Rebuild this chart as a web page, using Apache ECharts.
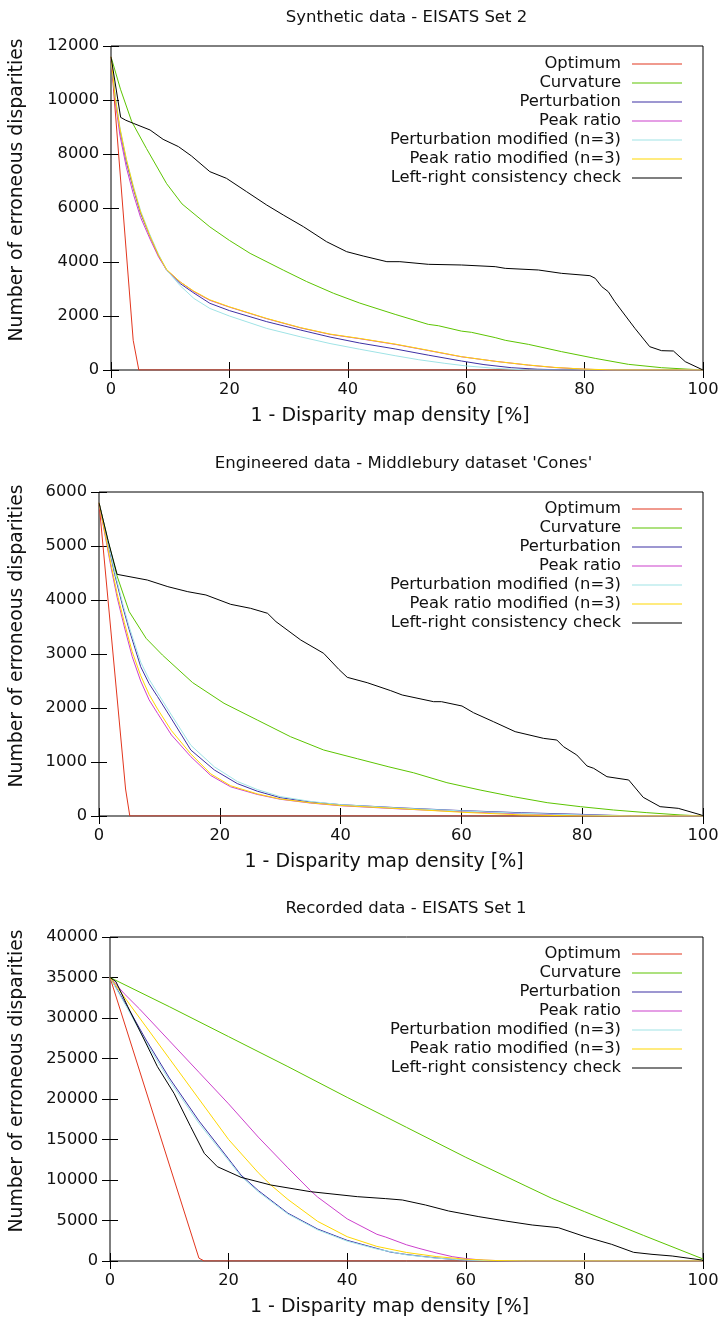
<!DOCTYPE html>
<html>
<head>
<meta charset="utf-8">
<script src="https://cdn.jsdelivr.net/npm/echarts@6/dist/echarts.min.js"></script>
<style>html,body{margin:0;padding:0;background:#fff}#c{width:722px;height:1319px}</style>
</head>
<body>
<div id="c"></div>
<script>
// ---------- shared labels ----------
const seriesNames = ['Optimum', 'Curvature', 'Perturbation', 'Peak ratio',
  'Perturbation modified (n=3)', 'Peak ratio modified (n=3)', 'Left-right consistency check'];
const titles = ["Synthetic data - EISATS Set 2", "Engineered data - Middlebury dataset 'Cones'", "Recorded data - EISATS Set 1"];
const xAxisTitle = '1 - Disparity map density [%]';
const yAxisTitle = 'Number of erroneous disparities';
const xTicks = [0, 20, 40, 60, 80, 100];
const yTicks1 = [0, 2000, 4000, 6000, 8000, 10000, 12000];
const yTicks2 = [0, 1000, 2000, 3000, 4000, 5000, 6000];
const yTicks3 = [0, 5000, 10000, 15000, 20000, 25000, 30000, 35000, 40000];

// ---------- chart 1: Synthetic data - EISATS Set 2 ----------
const opt1 = [[0,11600],[3.75,1100],[4.7,0],[100,0]];
const curv1 = [[0,11600],[1.6,10400],[3.5,9200],[6,8200],[9.4,6900],[12,6150],[16.7,5300],[20,4800],[23.5,4320],[29.1,3700],[33,3280],[37.6,2840],[42,2480],[48,2060],[53.6,1690],[55.3,1640],[59.2,1440],[60.9,1395],[64.9,1200],[66.6,1100],[70.5,950],[76.1,680],[81.8,430],[87.4,210],[93,86],[100,0]];
const pert1 = [[0,11600],[0.7,10100],[1.5,8900],[2.6,7700],[3.8,6700],[5,5800],[6.6,4950],[8,4250],[9.4,3700],[11.7,3200],[14,2850],[16.7,2470],[20,2200],[26.3,1790],[32,1480],[37,1220],[42,1000],[48,780],[53.6,550],[59.2,333],[63,200],[67.6,86],[72,30],[76,5],[80,0],[100,0]];
const peak1 = [[0,11600],[0.7,10000],[1.5,8700],[2.6,7500],[3.8,6500],[5,5650],[6.6,4850],[8,4200],[9.4,3700],[11.7,3260],[14,2900],[16.7,2580],[20,2330],[26.3,1900],[32,1560],[37,1320],[42,1160],[48,950],[53.6,720],[59.2,490],[65,320],[70.5,180],[75,90],[79.7,35],[84,0],[100,0]];
const pmod1 = [[0,11600],[0.7,10150],[1.5,9000],[2.6,7800],[3.8,6800],[5,5900],[6.6,5000],[8,4300],[9.4,3700],[11.7,3120],[14,2650],[16.7,2280],[20,2000],[26.3,1540],[32,1230],[37,980],[42,770],[48,530],[52,380],[56.4,247],[60,150],[64.9,62],[70.5,0],[100,0]];
const prmod1 = [[0,11600],[0.7,10100],[1.5,8950],[2.6,7800],[3.8,6750],[5,5850],[6.6,4950],[8,4260],[9.4,3720],[11.7,3260],[14,2920],[16.7,2600],[20,2340],[26.3,1910],[32,1570],[37,1330],[42,1170],[48,960],[53.6,730],[59.2,494],[65,320],[70.5,185],[75,95],[79.7,37],[85,0],[100,0]];
const lr1 = [[0,11600],[1.63,9357],[2.5,9250],[3.77,9136],[6.6,8889],[8.8,8543],[11.4,8272],[13.6,7926],[16.7,7346],[19.5,7099],[22.9,6605],[26.3,6111],[29.1,5741],[32.5,5309],[36.4,4753],[39.8,4383],[42.6,4222],[46.6,4012],[48.8,4012],[53.6,3914],[59.2,3889],[64.9,3827],[66.6,3765],[72.2,3704],[76.1,3580],[80.9,3494],[81.8,3395],[82.9,3086],[84,2901],[85.1,2531],[86.8,2037],[88.5,1543],[91,864],[93,716],[95,704],[97,309],[100,0]];

// ---------- chart 2: Engineered data - Middlebury 'Cones' ----------
const opt2 = [[0,5800],[4.4,500],[5.1,0],[100,0]];
const curv2 = [[0,5800],[1.5,5100],[2.9,4475],[5,3784],[7.8,3290],[10.5,2981],[15.5,2470],[20.7,2087],[26.2,1778],[31.7,1469],[37.2,1222],[42.8,1060],[48,910],[52.1,800],[57.6,617],[63.1,481],[68.6,358],[74.2,247],[79.7,173],[85.2,111],[90.7,62],[96.2,20],[100,0]];
const pert2 = [[0,5800],[1.3,5150],[2.6,4475],[4,3850],[5,3450],[6.9,2765],[8.3,2450],[9.7,2210],[12,1800],[15.2,1222],[19.1,852],[22.9,600],[26.2,460],[30,340],[35,260],[40,210],[50,150],[60,100],[70,60],[75,45],[80,30],[85,12],[90,0],[100,0]];
const peak2 = [[0,5800],[1,5200],[2,4600],[3,4050],[4.2,3500],[5.5,2950],[6.9,2500],[8.3,2150],[9.7,1900],[12,1500],[15.2,1099],[18.5,750],[21.8,540],[26.2,400],[30,310],[35,240],[40,190],[50,130],[60,80],[70,40],[80,15],[88,0],[100,0]];
const pmod2 = [[0,5800],[1.3,5160],[2.7,4475],[4,3900],[5,3500],[6.9,2850],[8.3,2530],[9.7,2280],[12,1870],[15.2,1310],[19.1,910],[22.9,640],[26.2,490],[30,360],[35,270],[40,210],[50,145],[60,95],[70,50],[80,20],[88,0],[100,0]];
const prmod2 = [[0,5800],[1,5230],[2,4650],[3,4120],[4.2,3580],[5.5,3040],[6.9,2600],[8.3,2250],[9.7,1980],[12,1580],[15.2,1150],[18.5,780],[21.8,560],[26.2,410],[30,315],[35,245],[40,195],[50,135],[60,70],[70,20],[80,0],[100,0]];
const lr2 = [[0,5800],[1.5,5100],[3,4475],[8,4370],[11.4,4247],[14.7,4154],[17.7,4093],[21.8,3920],[25.1,3846],[27.9,3754],[29.3,3599],[33.4,3259],[37.2,3012],[39.7,2716],[41.1,2568],[44.4,2469],[48.3,2321],[50.2,2241],[55.4,2117],[56.7,2117],[60.1,2037],[62,1913],[65.3,1747],[68.9,1562],[73.6,1438],[75.8,1407],[76.9,1284],[79.1,1130],[80.8,926],[81.9,883],[84.1,728],[87.7,667],[90.1,346],[92.9,173],[95.9,142],[99.7,19],[100,0]];

// ---------- chart 3: Recorded data - EISATS Set 1 ----------
const opt3 = [[0,35000],[15,350],[15.9,0],[100,0]];
const curv3 = [[0,35000],[10,31400],[20,27700],[30,24000],[40,20200],[46.5,17800],[50,16500],[60,12800],[70,9300],[74.5,7740],[80,6100],[90,3150],[100,250]];
const pert3 = [[0,35000],[1,33800],[3,31300],[6,27400],[10,22600],[15,17300],[20,12600],[22.1,10600],[25,8700],[30,5900],[35,3950],[40,2550],[45,1550],[47.3,1100],[50,800],[52.1,617],[55,380],[57.7,206],[60,120],[65,30],[70,0],[100,0]];
const peak3 = [[0,35000],[2.4,33000],[5,31100],[10,27200],[15,23300],[20,19400],[25,15300],[30,11500],[33.8,8700],[35,7900],[40,5200],[45,3300],[46.5,2950],[50,2000],[52.1,1560],[55,1000],[57.7,540],[60,300],[63,100],[67,20],[70,0],[100,0]];
const pmod3 = [[0,35000],[1,33700],[3,31100],[6,27100],[10,22300],[15,17000],[20,12400],[22.1,10450],[25,8550],[30,5800],[35,3850],[40,2450],[45,1480],[50,760],[55,350],[60,110],[65,25],[70,0],[100,0]];
const prmod3 = [[0,35000],[5,30000],[10,25000],[15,20000],[20,15000],[25,10900],[27.1,9400],[30,7600],[35,4900],[40,3000],[45,1800],[50,1050],[55,550],[60,220],[65,60],[70,0],[100,0]];
const lr3 = [[0,35000],[1,34486],[3,31400],[5.8,27284],[8,23992],[10.8,20700],[13.6,16584],[15.9,13292],[18.1,11646],[22.1,10329],[27.1,9383],[33.8,8560],[41.7,7942],[46.5,7700],[49.3,7531],[53.2,6914],[57.1,6173],[62.2,5473],[66.7,4938],[71.2,4444],[75.6,4115],[80.1,3004],[84.6,2058],[88.3,1070],[91.4,823],[94.8,617],[99.8,123],[100,0]];

// ---------- styling ----------
const colors = ['#e2361e', '#5cc400', '#3d30a4', '#cc40cc', '#9fe3e6', '#ffd700', '#000000'];
const FONT = 'DejaVu Sans';
const TXT = '#111';

const panels = [
  { data: [opt1, curv1, pert1, peak1, pmod1, prmod1, lr1], yTicks: yTicks1,
    grid: { left: 110, top: 46, width: 593, height: 324 }, titleX: 406.5, titleTop: 9, legendTop: 54.5, yNameGap: 84 },
  { data: [opt2, curv2, pert2, peak2, pmod2, prmod2, lr2], yTicks: yTicks2,
    grid: { left: 98, top: 492, width: 605, height: 324 }, titleX: 403.5, titleTop: 455, legendTop: 499.5, yNameGap: 72 },
  { data: [opt3, curv3, pert3, peak3, pmod3, prmod3, lr3], yTicks: yTicks3,
    grid: { left: 109, top: 937, width: 594, height: 324 }, titleX: 406, titleTop: 900, legendTop: 944.5, yNameGap: 83 }
];

const option = { animation: false, backgroundColor: '#fff', title: [], grid: [], xAxis: [], yAxis: [], legend: [], series: [] };
const tickStyle = { show: true, inside: true, length: 8, lineStyle: { color: '#000', width: 1 } };

panels.forEach((p, i) => {
  const g = p.grid;
  option.grid.push({ left: g.left, top: g.top, width: g.width, height: g.height, show: true,
    borderColor: '#000', borderWidth: 1, backgroundColor: 'transparent' });
  option.title.push({ text: titles[i], left: p.titleX, top: p.titleTop, textAlign: 'center', padding: 0,
    textStyle: { fontFamily: FONT, fontSize: 16.5, fontWeight: 'normal', color: TXT } });
  const yMax = p.yTicks[p.yTicks.length - 1];
  const yInt = p.yTicks[1] - p.yTicks[0];
  const xInt = xTicks[1] - xTicks[0];
  option.xAxis.push({ type: 'value', gridIndex: i, position: 'bottom', min: xTicks[0], max: xTicks[xTicks.length - 1], interval: xInt,
    name: xAxisTitle, nameLocation: 'middle', nameGap: 37,
    nameTextStyle: { fontFamily: FONT, fontSize: 19, color: TXT, padding: [0, 34, 0, 0] },
    axisLine: { show: false }, axisTick: tickStyle, splitLine: { show: false },
    axisLabel: { fontFamily: FONT, fontSize: 16.3, color: TXT, margin: 12 } });
  option.xAxis.push({ type: 'value', gridIndex: i, position: 'top', min: xTicks[0], max: xTicks[xTicks.length - 1], interval: xInt,
    axisLine: { show: false }, axisTick: tickStyle, splitLine: { show: false }, axisLabel: { show: false } });
  option.yAxis.push({ type: 'value', gridIndex: i, position: 'left', min: 0, max: yMax, interval: yInt,
    name: yAxisTitle, nameLocation: 'middle', nameGap: p.yNameGap, nameRotate: 90,
    nameTextStyle: { fontFamily: FONT, fontSize: 18.8, color: TXT, padding: [0, 0, 0, 36] },
    axisLine: { show: false }, axisTick: tickStyle, splitLine: { show: false },
    axisLabel: { fontFamily: FONT, fontSize: 16.3, color: TXT, margin: 12, formatter: v => String(v) } });
  option.yAxis.push({ type: 'value', gridIndex: i, position: 'right', min: 0, max: yMax, interval: yInt,
    axisLine: { show: false }, axisTick: tickStyle, splitLine: { show: false }, axisLabel: { show: false } });
  option.legend.push({ data: seriesNames, orient: 'vertical', align: 'right', right: 40, top: p.legendTop,
    padding: 0, itemGap: 0, itemWidth: 50, itemHeight: 1, icon: 'rect', selectedMode: false,
    itemStyle: { borderWidth: 0 },
    textStyle: { fontFamily: FONT, fontSize: 16.4, color: TXT, lineHeight: 19, padding: [0, 6, 0, 0] } });
  p.data.forEach((d, k) => {
    option.series.push({ type: 'line', name: seriesNames[k], xAxisIndex: 2 * i, yAxisIndex: 2 * i,
      data: d, symbol: 'none', smooth: false, color: colors[k],
      lineStyle: { color: colors[k], width: 1 }, silent: true });
  });
});

const chart = echarts.init(document.getElementById('c'), null, { renderer: 'canvas' });
chart.setOption(option);
</script>
</body>
</html>
